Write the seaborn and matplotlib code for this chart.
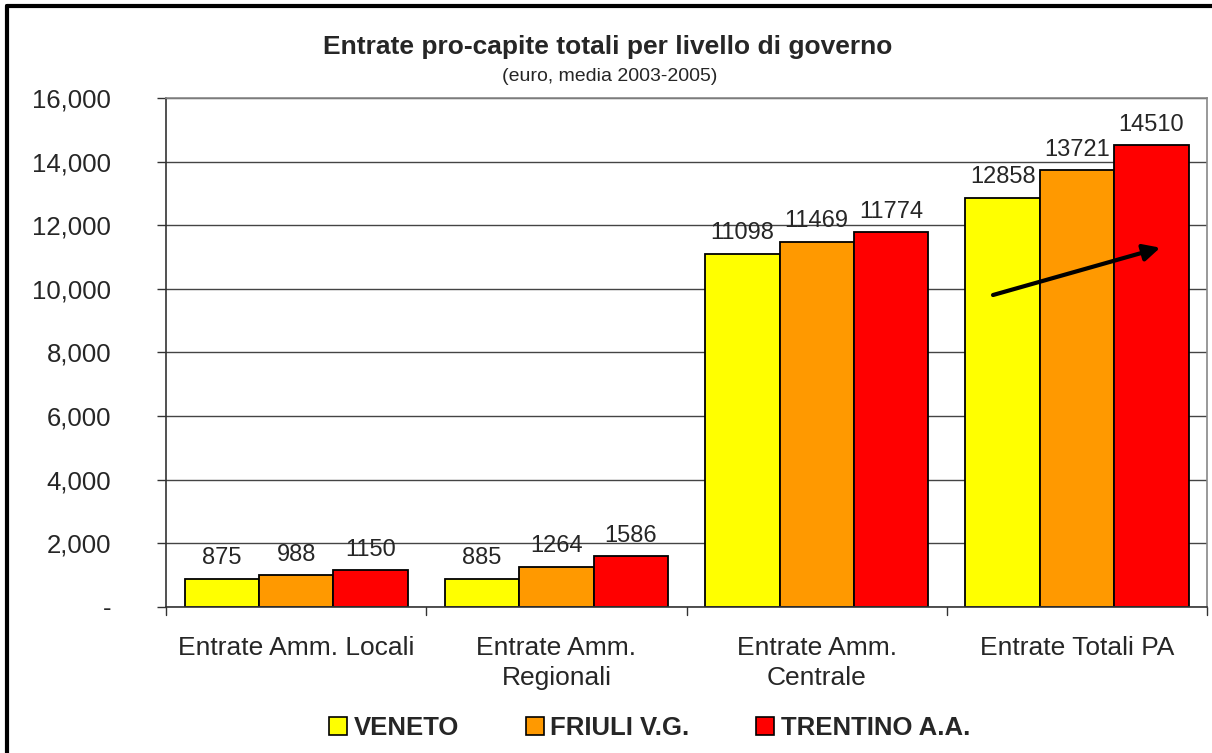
import pandas as pd
import numpy as np
import matplotlib.pyplot as plt
import seaborn as sns
from matplotlib.lines import Line2D
from matplotlib.patches import Patch

### Dati
categorie = ["Entrate Amm. Locali", "Entrate Amm.\nRegionali", "Entrate Amm.\nCentrale", "Entrate Totali PA"]
regioni = ["VENETO", "FRIULI V.G.", "TRENTINO A.A."]
veneto = [875, 885, 11098, 12858]
friuli = [988, 1264, 11469, 13721]
trentino = [1150, 1586, 11774, 14510]
colori = ["#FFFF00", "#FF9900", "#FF0000"]

df = pd.DataFrame({"Categoria": categorie * 3,
                   "Regione": [r for r in regioni for _ in categorie],
                   "Valore": veneto + friuli + trentino})

### Grafico
sns.set_style("white")
plt.rcParams["font.family"] = ["Liberation Sans", "DejaVu Sans"]

fig = plt.figure(figsize = (12.12, 7.53), dpi = 100)
ax = fig.add_axes([0.137, 0.194, 0.859, 0.676])
sns.barplot(data = df, x = "Categoria", y = "Valore", hue = "Regione", order = categorie,
            hue_order = regioni, palette = colori, width = 0.858, edgecolor = "black",
            linewidth = 1.3, saturation = 1, legend = False, ax = ax)

for cont in ax.containers:
    ax.bar_label(cont, fmt = "%d", padding = 7, fontsize = 17)

ax.set_ylim(0, 16000)
ax.set_xlim(-0.5, 3.5)
ax.set_yticks(np.arange(0, 16001, 2000))
ax.set_yticklabels(["-"] + [f"{v:,}" for v in range(2000, 16001, 2000)], fontsize = 18.5)
ax.set_xticks([0, 1, 2, 3])
ax.set_xticklabels(categorie, fontsize = 19, linespacing = 1.3)
ax.tick_params(axis = "x", length = 0, pad = 21)
ax.tick_params(axis = "y", length = 6.5, width = 1, color = "#333333", left = True, pad = 33)
for xb in [-0.5, 0.5, 1.5, 2.5, 3.5]:
    ax.plot([xb, xb], [0, -0.015], transform = ax.get_xaxis_transform(), color = "#333333",
            lw = 1, clip_on = False)
ax.yaxis.grid(True, color = "#444444", linewidth = 1)
ax.set_axisbelow(True)
ax.set_xlabel("")
ax.set_ylabel("")
for s in ["top", "right"]:
    ax.spines[s].set_color("#888888")
    ax.spines[s].set_linewidth(1.2)
for s in ["left", "bottom"]:
    ax.spines[s].set_color("#333333")
    ax.spines[s].set_linewidth(1.2)

# freccia
ax.annotate("", xy = (3.33, 11316), xytext = (2.667, 9780),
            arrowprops = dict(arrowstyle = "-|>", color = "black", lw = 3, mutation_scale = 25))

fig.text(0.501, 0.937, "Entrate pro-capite totali per livello di governo", ha = "center", va = "center",
         fontsize = 19, fontweight = "bold")
fig.text(0.503, 0.899, "(euro, media 2003-2005)", ha = "center", va = "center", fontsize = 14)

handles = [Patch(facecolor = c, edgecolor = "black", linewidth = 1.2) for c in colori]
fig.legend(handles, regioni, loc = "center", bbox_to_anchor = (0.536, 0.033), ncol = 3, frameon = False,
           prop = {"size": 18.5, "weight": "bold"}, handlelength = 0.7, handleheight = 0.7,
           handletextpad = 0.25, columnspacing = 2.6)

# cornice
fig.add_artist(Line2D([0.0058, 0.0058], [0, 0.992], transform = fig.transFigure, color = "black", lw = 3))
fig.add_artist(Line2D([0.0058, 1.0], [0.992, 0.992], transform = fig.transFigure, color = "black", lw = 3))

plt.savefig("out.png", dpi = 100)
